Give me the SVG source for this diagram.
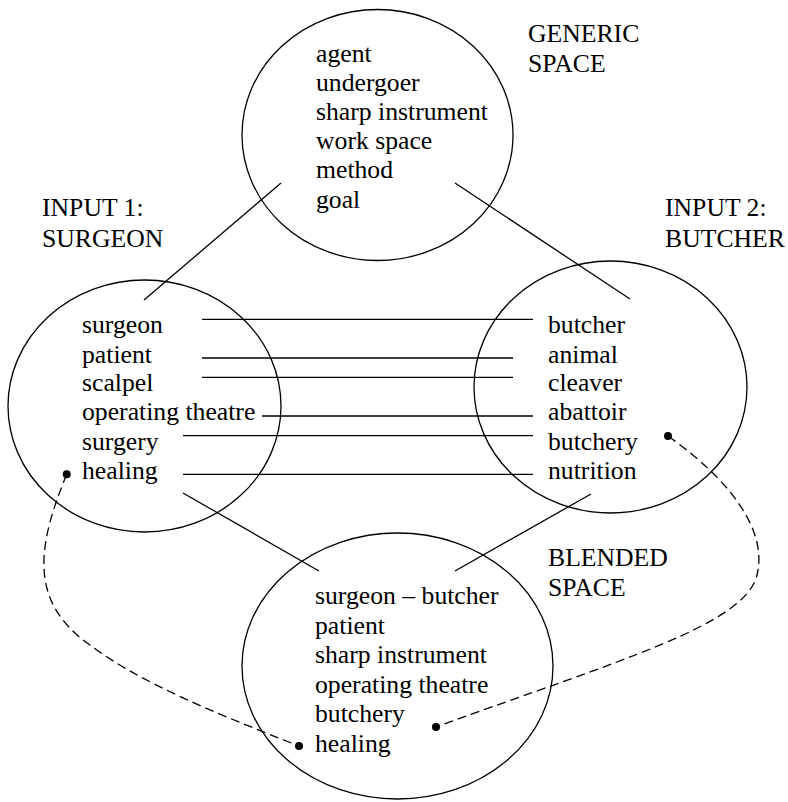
<svg xmlns="http://www.w3.org/2000/svg" width="788" height="802" viewBox="0 0 788 802">
  <style>
    .space { fill: none; stroke: #000; stroke-width: 1.3; }
    .link { fill: none; stroke: #000; stroke-width: 1.3; }
    .dash { fill: none; stroke: #000; stroke-width: 1.3; stroke-dasharray: 9 5; }
    .dot { fill: #000; }
    text { font-family: "Liberation Serif", "Times New Roman", serif; font-size: 25.7px; fill: #000; }
  </style>
  <rect width="788" height="802" fill="#fff"/>

  <!-- generic space -->
  <g id="generic">
    <ellipse class="space" cx="377.5" cy="135" rx="135.5" ry="125.5"/>
    <text x="316" y="62">agent</text>
    <text x="316" y="91">undergoer</text>
    <text x="316" y="120">sharp instrument</text>
    <text x="316" y="149">work space</text>
    <text x="316" y="178">method</text>
    <text x="316" y="208">goal</text>
    <text x="528" y="42">GENERIC</text>
    <text x="528" y="72">SPACE</text>
  </g>

  <!-- input 1 -->
  <g id="input1">
    <ellipse class="space" cx="144.5" cy="406" rx="136.5" ry="126"/>
    <text x="82" y="333">surgeon</text>
    <text x="82" y="362.5">patient</text>
    <text x="82" y="391">scalpel</text>
    <text x="82" y="420">operating theatre</text>
    <text x="82" y="449.5">surgery</text>
    <text x="82" y="479">healing</text>
    <text x="42" y="216">INPUT 1:</text>
    <text x="42" y="247">SURGEON</text>
  </g>

  <!-- input 2 -->
  <g id="input2">
    <ellipse class="space" cx="610.5" cy="387" rx="136.5" ry="126"/>
    <text x="548" y="333">butcher</text>
    <text x="548" y="362.5">animal</text>
    <text x="548" y="391">cleaver</text>
    <text x="548" y="420">abattoir</text>
    <text x="548" y="449.5">butchery</text>
    <text x="548" y="479">nutrition</text>
    <text x="665" y="216">INPUT 2:</text>
    <text x="665" y="247">BUTCHER</text>
  </g>

  <!-- blended space -->
  <g id="blend">
    <ellipse class="space" cx="397.5" cy="666" rx="155.5" ry="133"/>
    <text x="315" y="604">surgeon – butcher</text>
    <text x="315" y="633.5">patient</text>
    <text x="315" y="663">sharp instrument</text>
    <text x="315" y="692.5">operating theatre</text>
    <text x="315" y="722">butchery</text>
    <text x="315" y="751.5">healing</text>
    <text x="548" y="566">BLENDED</text>
    <text x="548" y="596">SPACE</text>
  </g>

  <g id="connectors">
    <!-- generic to inputs, inputs to blend -->
    <line class="link" x1="281" y1="183" x2="144" y2="300"/>
    <line class="link" x1="455" y1="183" x2="630" y2="299"/>
    <line class="link" x1="183" y1="493" x2="319" y2="571"/>
    <line class="link" x1="591" y1="494" x2="455" y2="571"/>

    <!-- cross-space counterparts -->
    <line class="link" x1="202" y1="319.3" x2="533" y2="319.3"/>
    <line class="link" x1="202" y1="358" x2="513" y2="358"/>
    <line class="link" x1="202" y1="377.3" x2="513" y2="377.3"/>
    <line class="link" x1="262" y1="416" x2="533" y2="416"/>
    <line class="link" x1="183" y1="435.7" x2="533" y2="435.7"/>
    <line class="link" x1="183" y1="474.3" x2="533" y2="474.3"/>

    <!-- projections into the blend -->
    <path class="dash" d="M66.7,474.3 C40,540 25,600 90,645 C140,683 220,715 299,746"/>
    <circle class="dot" cx="66.7" cy="474.3" r="4"/>
    <circle class="dot" cx="299" cy="746" r="4"/>
    <path class="dash" d="M668,436 C730,480 768,530 757,575 C745,625 620,660 436,727"/>
    <circle class="dot" cx="668" cy="436" r="4"/>
    <circle class="dot" cx="436" cy="727" r="4"/>
  </g>
</svg>
